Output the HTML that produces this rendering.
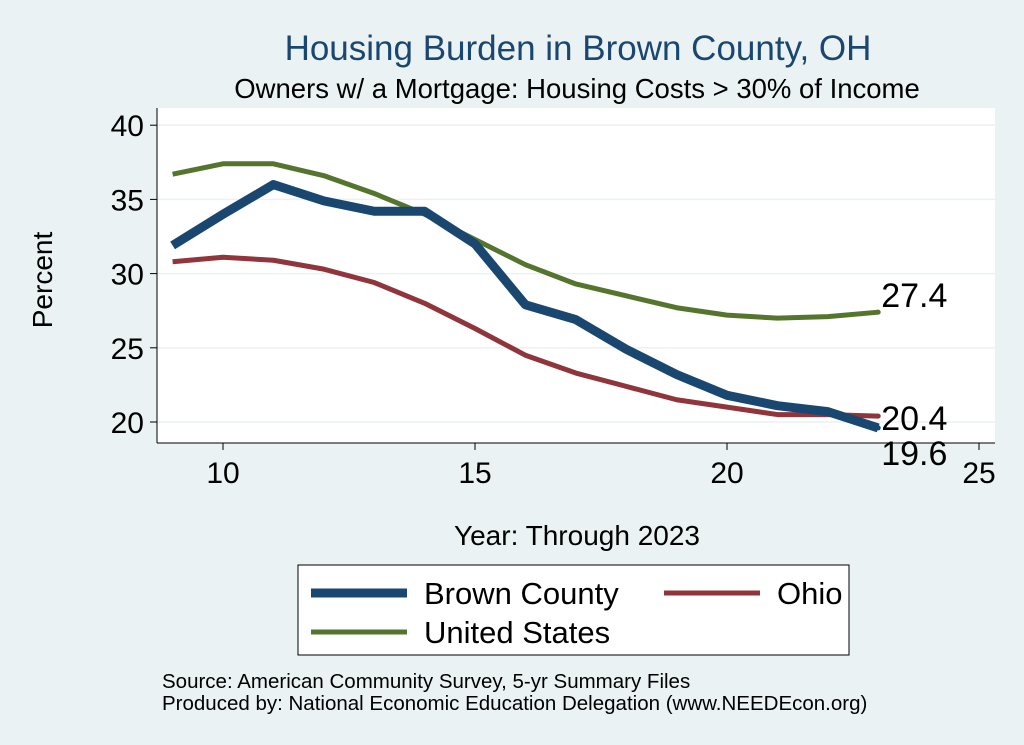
<!DOCTYPE html>
<html><head><meta charset="utf-8"><style>
body{margin:0;background:#eaf2f3;}
svg{display:block;font-family:"Liberation Sans",sans-serif;}
</style></head><body>
<svg id="chart" width="1024" height="745" viewBox="0 0 1024 745">
<rect x="0" y="0" width="1024" height="745" fill="#eaf2f3"/>
<text x="578" y="60" font-size="35" fill="#1a476f" text-anchor="middle">Housing Burden in Brown County, OH</text>
<text x="577" y="98" font-size="27.5" fill="#000" text-anchor="middle">Owners w/ a Mortgage: Housing Costs &gt; 30% of Income</text>
<rect x="157" y="108" width="838" height="335" fill="#fff"/>
<g id="grid"></g><g id="axes"></g><g id="series"></g>
<text x="52" y="280" font-size="28" text-anchor="middle" transform="rotate(-90 52 280)">Percent</text>
<text x="577" y="545" font-size="28" text-anchor="middle">Year: Through 2023</text>
<g>
<rect x="298" y="565" width="551" height="90" fill="#fff" stroke="#000" stroke-width="1"/>
<g><line x1="311" y1="593" x2="407" y2="593" stroke="#1a476f" stroke-width="9"/><text x="424" y="604" font-size="31">Brown County</text></g>
<g><line x1="664" y1="593" x2="760" y2="593" stroke="#90353b" stroke-width="5"/><text x="777" y="604" font-size="31">Ohio</text></g>
<g><line x1="311" y1="632" x2="407" y2="632" stroke="#55752f" stroke-width="5"/><text x="424" y="643" font-size="31">United States</text></g>
</g>
<text x="162" y="688" font-size="20.5">Source: American Community Survey, 5-yr Summary Files</text>
<text x="162" y="710" font-size="20.5">Produced by: National Economic Education Delegation (www.NEEDEcon.org)</text>
</svg>
<script>
const years=[9,10,11,12,13,14,15,16,17,18,19,20,21,22,23];
const brown=[31.9,34.0,36.0,34.9,34.2,34.2,32.0,27.9,26.9,24.9,23.2,21.8,21.1,20.7,19.6];
const ohio=[30.8,31.1,30.9,30.3,29.4,28.0,26.3,24.5,23.3,22.4,21.5,21.0,20.5,20.5,20.4];
const us=[36.7,37.4,37.4,36.6,35.4,34.0,32.3,30.6,29.3,28.5,27.7,27.2,27.0,27.1,27.4];
const xTicks=[10,15,20,25];
const yTicks=[20,25,30,35,40];
const NS='http://www.w3.org/2000/svg';
const xs=v=>223+(v-10)*50.4;
const ys=v=>422-(v-20)*14.84;
function mk(tag,attrs,parent){const e=document.createElementNS(NS,tag);for(const k in attrs)e.setAttribute(k,attrs[k]);parent.appendChild(e);return e;}
const grid=document.getElementById('grid'),axes=document.getElementById('axes'),ser=document.getElementById('series');
mk('line',{x1:157,y1:108,x2:157,y2:443,stroke:'#000','stroke-width':1},axes);
mk('line',{x1:157,y1:443,x2:995,y2:443,stroke:'#000','stroke-width':1},axes);
yTicks.forEach(t=>{
 const g=mk('line',{x1:157,x2:995,y1:ys(t),y2:ys(t),stroke:'#eaf2f3','stroke-width':1.5},grid);
 
 mk('line',{x1:150,x2:157,y1:ys(t),y2:ys(t),stroke:'#000'},axes);
 const tx=mk('text',{x:144,y:ys(t)+11,'font-size':30,'text-anchor':'end'},axes);tx.textContent=t;
 
});
xTicks.forEach(t=>{
 mk('line',{x1:xs(t),x2:xs(t),y1:443,y2:450,stroke:'#000'},axes);
 const tx=mk('text',{x:xs(t),y:483,'font-size':30,'text-anchor':'middle'},axes);tx.textContent=t;
 
});
function line(data,color,w,name){
 const p=mk('polyline',{points:data.map((v,i)=>xs(years[i])+','+ys(v)).join(' '),fill:'none',stroke:color,'stroke-width':w,'stroke-linejoin':'round'},ser);
 
 const n=data.length-1;
 mk('circle',{cx:xs(years[n]),cy:ys(data[n]),r:2.5,fill:color},ser);
}
line(us,'#55752f',5,'line-united-states');
line(ohio,'#90353b',5,'line-ohio');
line(brown,'#1a476f',9,'line-brown-county');
function lab(v,dy,name){const n=years.length-1;const t=mk('text',{x:xs(years[n])+3,y:ys(v)+dy,'font-size':34},ser);t.textContent=v.toFixed(1);
 }
lab(us[us.length-1],-5,'label-united-states');
lab(ohio[ohio.length-1],14,'label-ohio');
lab(brown[brown.length-1],37,'label-brown-county');
</script>
</body></html>
